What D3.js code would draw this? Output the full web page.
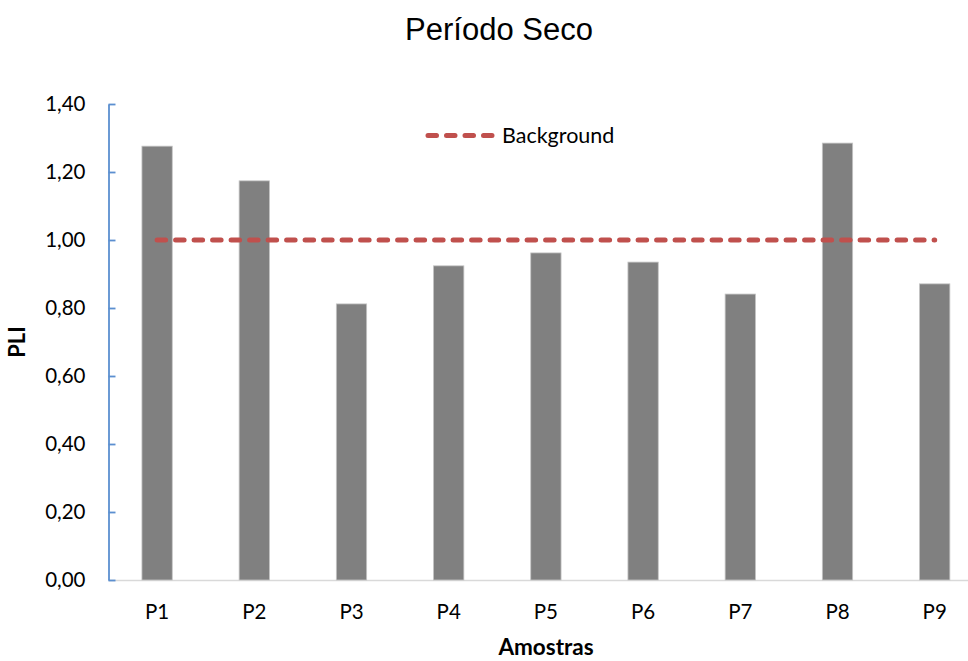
<!DOCTYPE html>
<html>
<head>
<meta charset="utf-8">
<script src="https://cdn.jsdelivr.net/npm/d3@7"></script>
<style>
  body { margin: 0; background: #fff; }
  svg { display: block; }
</style>
</head>
<body>
<svg id="chart" width="968" height="661"></svg>
<script>
// PLI per sampling point, dry period
const categories = ["P1", "P2", "P3", "P4", "P5", "P6", "P7", "P8", "P9"];
const pliValues = [1.276, 1.174, 0.812, 0.924, 0.962, 0.935, 0.841, 1.285, 0.871];
const backgroundValues = [1, 1, 1, 1, 1, 1, 1, 1, 1];
const yTicks = [0, 0.2, 0.4, 0.6, 0.8, 1.0, 1.2, 1.4];

const svg = d3.select("#chart");
const labelFont = "Lato, 'Open Sans', sans-serif";

const plot = { left: 108.5, top: 104, bottom: 580 };
const step = 97.2;

const x = d3.scaleBand()
  .domain(categories)
  .range([plot.left, plot.left + step * categories.length])
  .padding(0);

const y = d3.scaleLinear()
  .domain([0, 1.4])
  .range([plot.bottom, plot.top]);

const barW = x.bandwidth() * 0.312;

// Title
svg.append("text")
  .attr("x", 499).attr("y", 40)
  .attr("text-anchor", "middle")
  .attr("font-family", "'Liberation Sans', Arial, sans-serif")
  .attr("font-size", 31)
  .attr("fill", "#000")
  .text("Período Seco");

// X axis baseline
svg.append("line")
  .attr("x1", plot.left).attr("x2", 968)
  .attr("y1", y(0) + 0.5).attr("y2", y(0) + 0.5)
  .attr("stroke", "#d9d9d9").attr("stroke-width", 1.5);

// Bars
svg.append("g").selectAll("rect")
  .data(pliValues)
  .join("rect")
  .attr("x", (d, i) => x(categories[i]) + x.bandwidth() / 2 - barW / 2)
  .attr("y", d => y(d))
  .attr("width", barW)
  .attr("height", d => y(0) - y(d))
  .attr("fill", "#808080")
  .attr("stroke", "#c4c4c4")
  .attr("stroke-width", 0.8);

// Y axis
const yAxis = d3.axisLeft(y)
  .tickValues(yTicks)
  .tickSize(0)
  .tickPadding(23)
  .tickFormat(d => d3.format(".2f")(d).replace(".", ","));

const gy = svg.append("g")
  .attr("transform", `translate(${plot.left},0)`)
  .call(yAxis);
gy.select(".domain").attr("stroke", "#5b8fd0").attr("stroke-width", 1.8);
gy.selectAll(".tick text")
  .attr("font-family", labelFont)
  .attr("font-size", 20.5)
  .attr("fill", "#000");
gy.selectAll(".tick").append("line")
  .attr("x1", 0).attr("x2", 7)
  .attr("stroke", "#5b8fd0").attr("stroke-width", 1.8);

// X category labels
svg.append("g").selectAll("text")
  .data(categories)
  .join("text")
  .attr("x", d => x(d) + x.bandwidth() / 2)
  .attr("y", 619)
  .attr("text-anchor", "middle")
  .attr("font-family", labelFont)
  .attr("font-size", 20.5)
  .attr("fill", "#000")
  .text(d => d);

// Background reference line
const line = d3.line()
  .x((d, i) => x(categories[i]) + x.bandwidth() / 2)
  .y(d => y(d));

svg.append("path")
  .datum(backgroundValues)
  .attr("d", line)
  .attr("fill", "none")
  .attr("stroke", "#c0504d")
  .attr("stroke-width", 5)
  .attr("stroke-linecap", "round")
  .attr("stroke-dasharray", "8.5,10");

// Legend
svg.append("line")
  .attr("x1", 428).attr("x2", 492)
  .attr("y1", 135.5).attr("y2", 135.5)
  .attr("stroke", "#c0504d")
  .attr("stroke-width", 5)
  .attr("stroke-linecap", "round")
  .attr("stroke-dasharray", "8.5,10");
svg.append("text")
  .attr("x", 502).attr("y", 143)
  .attr("font-family", labelFont)
  .attr("font-size", 21.5)
  .attr("fill", "#000")
  .text("Background");

// Axis titles
svg.append("text")
  .attr("x", 546).attr("y", 655)
  .attr("text-anchor", "middle")
  .attr("font-family", labelFont)
  .attr("font-size", 22.5)
  .attr("font-weight", "bold")
  .attr("fill", "#000")
  .text("Amostras");

svg.append("text")
  .attr("transform", "translate(25,342) rotate(-90)")
  .attr("text-anchor", "middle")
  .attr("font-family", labelFont)
  .attr("font-size", 22)
  .attr("font-weight", "bold")
  .attr("fill", "#000")
  .text("PLI");
</script>
</body>
</html>
